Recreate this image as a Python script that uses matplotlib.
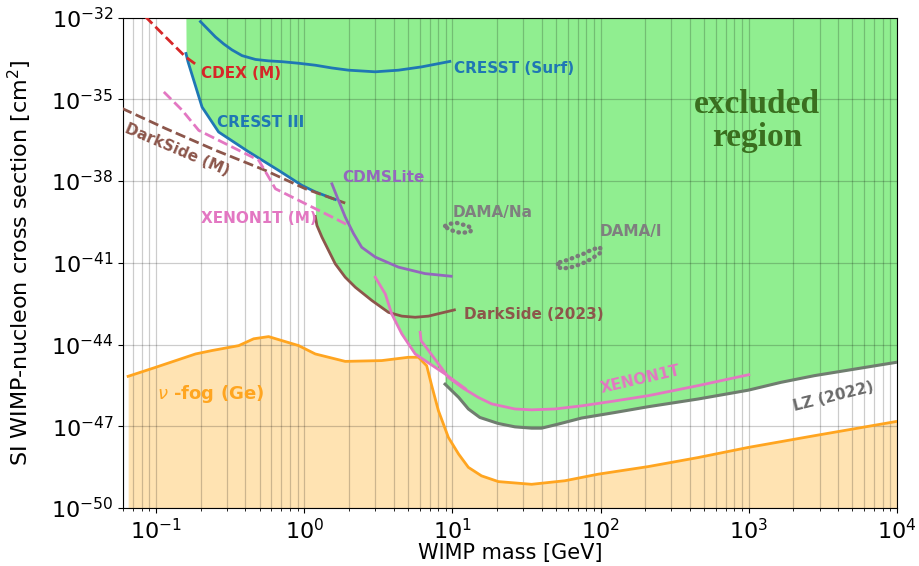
import numpy as np
import matplotlib.pyplot as plt
from matplotlib.ticker import NullLocator

# WIMP mass [GeV] and SI cross-section [cm^2] for each limit curve
cresst3_m = [0.159, 0.164, 0.204, 0.264, 0.422, 0.671, 0.964, 1.186, 1.618]
cresst3_s = [4.8e-34, 2.4e-34, 5.2e-36, 6.3e-37, 1.17e-37, 2.45e-38, 6.9e-39, 4.0e-39, 2.1e-39]

surf_m = [0.199, 0.226, 0.251, 0.286, 0.325, 0.380, 0.468, 0.574, 0.706, 0.916,
          1.186, 1.535, 1.99, 3.01, 4.32, 6.20, 9.6]
surf_s = [7.1e-33, 3.5e-33, 1.95e-33, 1.07e-33, 6.5e-34, 4.0e-34, 2.9e-34, 2.57e-34, 2.4e-34,
          2.1e-34, 1.78e-34, 1.41e-34, 1.17e-34, 1.02e-34, 1.17e-34, 1.55e-34, 2.45e-34]

cdex_m = [0.084, 0.0869, 0.1156, 0.158, 0.1845]
cdex_s = [1.1e-32, 9.3e-33, 1.95e-33, 3.6e-34, 1.95e-34]

dsm_m = [0.059, 0.1156, 0.251, 0.546, 1.016, 1.888]
dsm_s = [4.6e-36, 8.5e-37, 1.35e-37, 2.45e-38, 5.2e-39, 1.55e-39]

x1tm_m = [0.1127, 0.1496, 0.194, 0.325, 0.492, 0.574, 0.638, 0.916, 1.535, 1.99]
x1tm_s = [1.86e-35, 4.0e-36, 7.2e-37, 1.78e-37, 5.8e-38, 1.41e-38, 5.2e-39, 1.95e-39, 4.8e-40, 2.35e-40]

cdms_m = [1.535, 1.70, 1.888, 2.15, 2.44, 3.01, 4.32, 6.53, 9.79]
cdms_s = [7.9e-39, 1.95e-39, 4.8e-40, 1.17e-40, 3.7e-41, 1.62e-41, 6.9e-42, 4.0e-42, 3.2e-42]

ds23_m = [1.186, 1.216, 1.315, 1.459, 1.618, 1.888, 2.21, 2.86, 3.70, 4.55, 5.60, 6.89, 8.04, 10.3]
ds23_s = [5.0e-40, 2.35e-40, 8.7e-41, 2.8e-41, 9.1e-42, 2.95e-42, 1.26e-42, 4.1e-43, 1.51e-43,
          1.1e-43, 1.0e-43, 1.1e-43, 1.35e-43, 1.86e-43]

x1ts2_m = [3.01, 3.52, 3.89, 4.55, 5.60, 6.53, 8.91, 12.2]
x1ts2_s = [2.95e-42, 7.2e-43, 1.32e-43, 2.45e-44, 4.5e-45, 2.57e-45, 8.3e-46, 2.4e-46]

x1t_m = [6.05, 6.14, 6.89, 8.04, 9.38, 11.8, 14.9, 18.4, 26.4, 34.2, 49.1, 74.3, 125, 209, 455, 1000]
x1t_s = [2.8e-44, 1.38e-44, 6.0e-45, 1.95e-45, 6.2e-46, 2.5e-46, 1.15e-46, 6.6e-47, 4.3e-47,
         4.0e-47, 4.3e-47, 5.6e-47, 8.5e-47, 1.32e-46, 3.1e-46, 7.8e-46]

lz_m = [8.91, 11.0, 12.8, 15.3, 20.4, 26.4, 34.2, 39.9, 51.8, 74.3, 125, 209, 455, 988,
        1652, 2773, 10000]
lz_s = [3.5e-46, 1.15e-46, 4.3e-47, 2.1e-47, 1.26e-47, 9.5e-48, 8.5e-48, 8.5e-48, 1.2e-47,
        2.0e-47, 3.2e-47, 5.2e-47, 1.0e-46, 2.1e-46, 4.1e-46, 7.2e-46, 2.24e-45]

fog_m = [0.0647, 0.0964, 0.1845, 0.238, 0.361, 0.455, 0.574, 0.916, 1.186, 1.888, 3.33,
         5.05, 5.89, 6.70, 7.24, 8.04, 9.38, 11.0, 12.8, 15.7, 20.4, 34.2, 57.4, 96.2,
         209, 455, 986, 2773, 10000]
fog_s = [6.8e-46, 1.38e-45, 4.5e-45, 6.0e-45, 9.1e-45, 1.62e-44, 1.95e-44, 9.1e-45, 4.5e-45,
         2.4e-45, 2.57e-45, 3.4e-45, 3.4e-45, 1.66e-45, 3.1e-46, 3.7e-47, 3.9e-48, 9.5e-49,
         3.1e-49, 1.51e-49, 9.3e-50, 7.4e-50, 1.0e-49, 1.74e-49, 3.3e-49, 7.1e-49, 1.66e-48,
         4.5e-48, 1.51e-47]

# DAMA contours (closed)
damana_m = [8.91, 9.64, 10.7, 11.5, 12.6, 13.5, 13.2, 11.8, 10.7, 9.68, 9.10, 8.91]
damana_s = [2.24e-40, 2.7e-40, 2.9e-40, 2.57e-40, 2.3e-40, 1.82e-40, 1.38e-40, 1.26e-40,
            1.32e-40, 1.62e-40, 1.95e-40, 2.24e-40]
damai_m = [53.1, 60.4, 68.7, 78.3, 86.7, 98.9, 101.2, 93.8, 84.5, 74.3, 63.5, 54.5, 50.4, 53.1]
damai_s = [1.05e-41, 1.29e-41, 1.70e-41, 2.24e-41, 3.0e-41, 3.7e-41, 2.45e-41, 1.86e-41,
           1.29e-41, 9.1e-42, 6.9e-42, 6.0e-42, 7.9e-42, 1.05e-41]

xmin, xmax = 0.06, 1e4
ymin, ymax = 1e-50, 1e-32
excl_start = 0.157

fig = plt.figure(figsize=(9.2, 5.66), dpi=100)
ax = fig.add_axes([0.134, 0.1025, 0.841, 0.8665])
ax.set_xscale('log')
ax.set_yscale('log')

# excluded region: lowest of the solid limits
grid = np.logspace(np.log10(excl_start), 4, 3000)
curves = [(cresst3_m, cresst3_s), (ds23_m, ds23_s), (x1ts2_m, x1ts2_s),
          (x1t_m, x1t_s), (lz_m, lz_s)]
env = np.full_like(grid, np.log10(ymax))
for m, s in curves:
    lm, ls = np.log10(m), np.log10(s)
    inside = (np.log10(grid) >= lm[0]) & (np.log10(grid) <= lm[-1])
    vals = np.interp(np.log10(grid), lm, ls)
    env = np.where(inside, np.minimum(env, vals), env)
ax.fill_between(grid, 10**env, ymax, color='#90ee90', lw=0, zorder=1)

# neutrino fog
ax.fill_between(fog_m, ymin, fog_s, color='orange', alpha=0.3, lw=0, zorder=1)
ax.plot(fog_m, fog_s, color='#ffa520', lw=2, zorder=3)

ax.plot(cresst3_m, cresst3_s, color='#1f77b4', lw=2, zorder=3)
ax.plot(surf_m, surf_s, color='#1f77b4', lw=2, zorder=3)
ax.plot(cdex_m, cdex_s, color='#d62728', lw=2, ls='--', zorder=3)
ax.plot(dsm_m, dsm_s, color='#8c564b', lw=2, ls='--', zorder=3)
ax.plot(x1tm_m, x1tm_s, color='#e377c2', lw=2, ls='--', zorder=3)
ax.plot(cdms_m, cdms_s, color='#9467bd', lw=2, zorder=3)
ax.plot(ds23_m, ds23_s, color='#8c564b', lw=2, zorder=3)
ax.plot(x1ts2_m, x1ts2_s, color='#e377c2', lw=2, zorder=3)
ax.plot(x1t_m, x1t_s, color='#e377c2', lw=2, zorder=3)
ax.plot(lz_m, lz_s, color='#6f7d6f', lw=2.2, zorder=3)
dots = (0, (0.1, 1.3))
ax.plot(damana_m, damana_s, color='#7a7a7a', lw=3.2, ls=dots, dash_capstyle='round', zorder=3)
ax.plot(damai_m, damai_s, color='#7a7a7a', lw=3.2, ls=dots, dash_capstyle='round', zorder=3)

lab = dict(fontsize=11, fontweight='bold', zorder=5)
ax.text(0.2, 9.1e-35, 'CDEX (M)', color='#d62728', va='center', **lab)
ax.text(0.258, 1.45e-36, 'CRESST III', color='#1f77b4', va='center', **lab)
ax.text(10.2, 1.38e-34, 'CRESST (Surf)', color='#1f77b4', va='center', **lab)
ax.text(0.138, 1.35e-37, 'DarkSide (M)', color='#8c564b', va='center', ha='center',
        rotation=-23, **lab)
ax.text(0.2, 4.3e-40, 'XENON1T (M)', color='#e377c2', va='center', **lab)
ax.text(1.79, 1.38e-38, 'CDMSLite', color='#9467bd', va='center', **lab)
ax.text(10.0, 7.1e-40, 'DAMA/Na', color='#7f7f7f', va='center', **lab)
ax.text(99, 1.41e-40, 'DAMA/I', color='#7f7f7f', va='center', **lab)
ax.text(12.0, 1.26e-43, 'DarkSide (2023)', color='#8c564b', va='center', **lab)
ax.text(186, 5.1e-46, 'XENON1T', color='#e377c2', va='center', ha='center',
        rotation=13, **lab)
ax.text(3740, 1.23e-46, 'LZ (2022)', color='#6a6a6a', va='center', ha='center',
        rotation=14, **lab)
ax.text(0.1016, 1.58e-46, r'$\nu$ -fog (Ge)', color='#ffa520', va='center',
        fontsize=13, fontweight='bold', zorder=5)
ax.text(1135, 1.58e-36, 'excluded\nregion', color='#3a6f1f', va='center', ha='center',
        fontsize=24, fontweight='bold', family='Liberation Serif', linespacing=1.1, zorder=5)

ax.set_xlim(xmin, xmax)
ax.set_ylim(ymin, ymax)
ax.set_yticks([10.0**k for k in range(-50, -31, 3)])
ax.yaxis.set_minor_locator(NullLocator())
ax.grid(True, which='major', axis='y', color='k', alpha=0.2, lw=0.9, zorder=2)
ax.grid(True, which='both', axis='x', color='k', alpha=0.2, lw=0.9, zorder=2)
ax.set_axisbelow(False)
for ln in ax.get_xgridlines() + ax.get_ygridlines():
    ln.set_zorder(2)

ax.tick_params(labelsize=16)
ax.set_xlabel('WIMP mass [GeV]', fontsize=15, labelpad=0)
ax.set_ylabel(r'SI WIMP-nucleon cross section [cm$^2$]', fontsize=16, labelpad=12)

fig.savefig('out.png', dpi=100)
